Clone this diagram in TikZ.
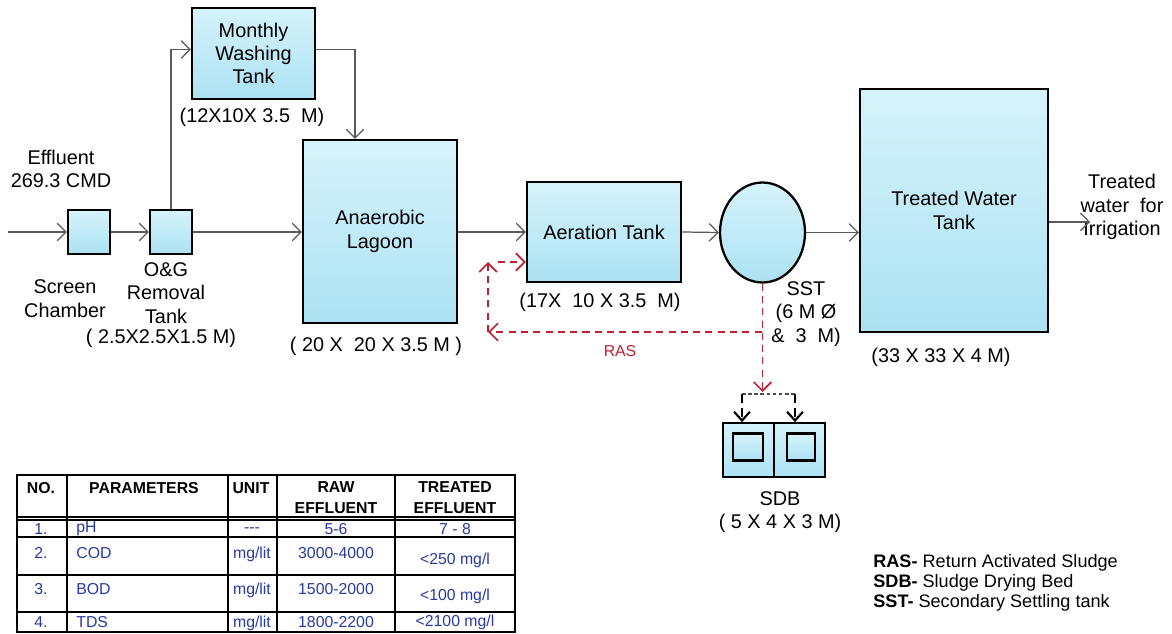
\documentclass[tikz,border=0pt]{standalone}
\usepackage{fontspec}
\setmainfont{Liberation Sans}
\usetikzlibrary{arrows.meta,shapes.geometric}

\definecolor{tankblue}{RGB}{172,226,243}
\definecolor{tanklight}{RGB}{214,243,251}
\definecolor{rasred}{RGB}{192,32,48}
\definecolor{tblue}{RGB}{38,58,160}
\newcommand\lblfont{\fontsize{11.3}{13.3}\selectfont}
\newcommand\tblfont{\fontsize{9}{11.8}\selectfont}
\newcommand\keyfont{\fontsize{10.3}{11.5}\selectfont}

\tikzset{
  tank/.style={draw=black, line width=1.3pt, top color=tanklight, bottom color=tankblue,
    align=center, font=\lblfont, inner sep=0pt},
  flow/.style={draw=black!65, line width=0.7pt, -{Straight Barb[length=5pt,width=10pt]}},
  ras/.style={draw=rasred, line width=1pt, dash pattern=on 4pt off 3pt,
    -{Straight Barb[length=5pt,width=10pt]}},
  lbl/.style={font=\lblfont, align=center, inner sep=0pt},
  thead/.style={font=\tblfont\bfseries, align=center, inner sep=0pt},
  tcell/.style={font=\tblfont, text=tblue, inner sep=0pt},
  key/.style={font=\keyfont, anchor=west, inner sep=0pt}
}

\begin{document}
\begin{tikzpicture}[x=0.02cm, y=-0.02cm]
        \useasboundingbox (0,0) rectangle (1172,634);

        % tanks
        \node[tank, minimum width=0.84cm, minimum height=0.88cm] (scr) at (89,232) {};
        \node[tank, minimum width=0.84cm, minimum height=0.88cm] (og) at (171,232) {};
        \node[tank, minimum width=2.46cm, minimum height=1.82cm] (mwt) at (253.5,53.5) {Monthly\\Washing\\Tank};
        \node[tank, minimum width=3.08cm, minimum height=3.66cm] (lag) at (380,231.5) {Anaerobic\\Lagoon};
        \node[tank, minimum width=3.08cm, minimum height=2cm] (aer) at (604,232) {Aeration Tank};
        \node[tank, ellipse, minimum width=1.7cm, minimum height=2cm] (sst) at (762.5,232.5) {};
        \node[tank, minimum width=3.76cm, minimum height=4.86cm] (twt) at (954,210.5) {Treated Water\\Tank};

        % sludge drying bed
        \node[tank, line width=1pt, minimum width=1.02cm, minimum height=1.08cm] (sdbl) at (748.5,450) {};
        \node[tank, line width=1pt, minimum width=1.02cm, minimum height=1.08cm] (sdbr) at (799.5,450) {};
        \node[tank, line width=1.3pt, minimum width=0.6cm, minimum height=0.54cm] (sdbli) at (748,447) {};
        \node[tank, line width=1.3pt, minimum width=0.56cm, minimum height=0.54cm] (sdbri) at (801,447) {};

        % labels
        \node[lbl] (eff) at (61,169) {Effluent\\269.3 CMD};
        \node[lbl] (scrl) at (65,298.5) {Screen\\Chamber};
        \node[lbl] (ogl) at (166,293) {O\&G\\Removal\\Tank};
        \node[lbl] (ogd) at (161,338) {( 2.5X2.5X1.5 M)};
        \node[lbl] (mwtd) at (252,117) {(12X10X 3.5~ M)};
        \node[lbl] (lagd) at (376,346) {( 20 X~ 20 X 3.5 M )};
        \node[lbl] (aerd) at (600,302) {(17X~ 10 X 3.5~ M)};
        \node[lbl] (sstl) at (806,314) {SST\\(6 M Ø\\\&~ 3~ M)};
        \node[lbl] (twtd) at (941,357) {(33 X 33 X 4 M)};
        \node[lbl] (outl) at (1122,207) {Treated\\water~ for\\Irrigation};
        \node[lbl] (sdbl1) at (780,512) {SDB\\( 5 X 4 X 3 M)};
        \node[font=\fontsize{9}{10}\selectfont, text=rasred, inner sep=0pt] (rasl) at (620,351) {RAS};

        % flow
        \coordinate (inlet) at (8,232);
        \coordinate (outend) at (1090,222);
        \draw[flow] (inlet) -- (scr.west);
        \draw[flow] (scr.east) -- (og.west);
        \draw[flow] (og.east) -- (og.east -| lag.west);
        \draw[flow] (og.north) |- ([yshift=0.08cm]mwt.west);
        \draw[flow] ([yshift=0.08cm]mwt.east) -| ([xshift=-0.5cm]lag.north);
        \draw[flow] (lag.east |- aer.west) -- (aer.west);
        \draw[flow] (aer.east) -- (sst.west);
        \draw[flow] (sst.east) -- (sst.east -| twt.west);
        \draw[flow] (outend -| twt.east) -- (outend);

        % return sludge
        \coordinate (rasb) at (488,332);
        \coordinate (rast) at (488,262);
        \coordinate (drop) at (762.5,392);
        \draw[ras] (sst.south) |- (rasb);
        \draw[ras] (rasb) -- (rast);
        \draw[ras] ([xshift=0.2cm]rast) -- (rast -| aer.west);
        \draw[ras] (sst.south) -- (drop);

        % split to drying beds
        \coordinate (spl) at (742,394);
        \coordinate (spr) at (795,394);
        \draw[black!70, line width=0.8pt, dash pattern=on 2pt off 1.5pt] (spl) -- (spr);
        \draw[line width=1.2pt, dash pattern=on 5pt off 3pt, -{Straight Barb[length=5pt,width=9pt]}] (spl) -- (spl |- sdbl.north);
        \draw[line width=1.2pt, dash pattern=on 5pt off 3pt, -{Straight Barb[length=5pt,width=9pt]}] (spr) -- (spr |- sdbr.north);

        % parameter table
        \draw[line width=1.1pt] (17,475) rectangle (515,632);
        \draw[line width=0.8pt] (17,517) -- (515,517);
        \draw[line width=0.8pt] (17,520) -- (515,520);
        \foreach \y in {537,575,612} {
            \draw[line width=0.9pt] (17,\y) -- (515,\y);
        }
        \foreach \x in {67,228,277,395} {
            \draw[line width=0.9pt] (\x,475) -- (\x,632);
        }
        \node[thead] (hno) at (41,488) {NO.};
        \node[thead] (hpar) at (144,488) {PARAMETERS};
        \node[thead] (hunit) at (251,488) {UNIT};
        \node[thead] (hraw) at (336,498) {RAW\\EFFLUENT};
        \node[thead] (htrt) at (455,498) {TREATED\\EFFLUENT};
        \foreach \k/\p/\u/\r/\t/\ya/\yb in {1/pH/{-{}-{}-}/{5-6}/{7 - 8}/529/529,
                2/COD/{mg/lit}/{3000-4000}/{<250 mg/l}/553/560,
                3/BOD/{mg/lit}/{1500-2000}/{<100 mg/l}/589/596,
                4/TDS/{mg/lit}/{1800-2200}/{<2100 mg/l}/622/622} {
            \node[tcell] (no\k) at (41,\ya) {\k.};
            \node[tcell, anchor=west] (par\k) at (76,\ya) {\p};
            \node[tcell] (unit\k) at (252,\ya+1) {\u};
            \node[tcell] (raw\k) at (336,\ya) {\r};
            \node[tcell] (trt\k) at (455,\yb) {\t};
        }

        % key
        \node[key] (kras) at (873,563) {\textbf{RAS-} Return Activated Sludge};
        \node[key] (ksdb) at (873,583) {\textbf{SDB-} Sludge Drying Bed};
        \node[key] (ksst) at (873,603) {\textbf{SST-} Secondary Settling tank};
    \end{tikzpicture}
\end{document}
